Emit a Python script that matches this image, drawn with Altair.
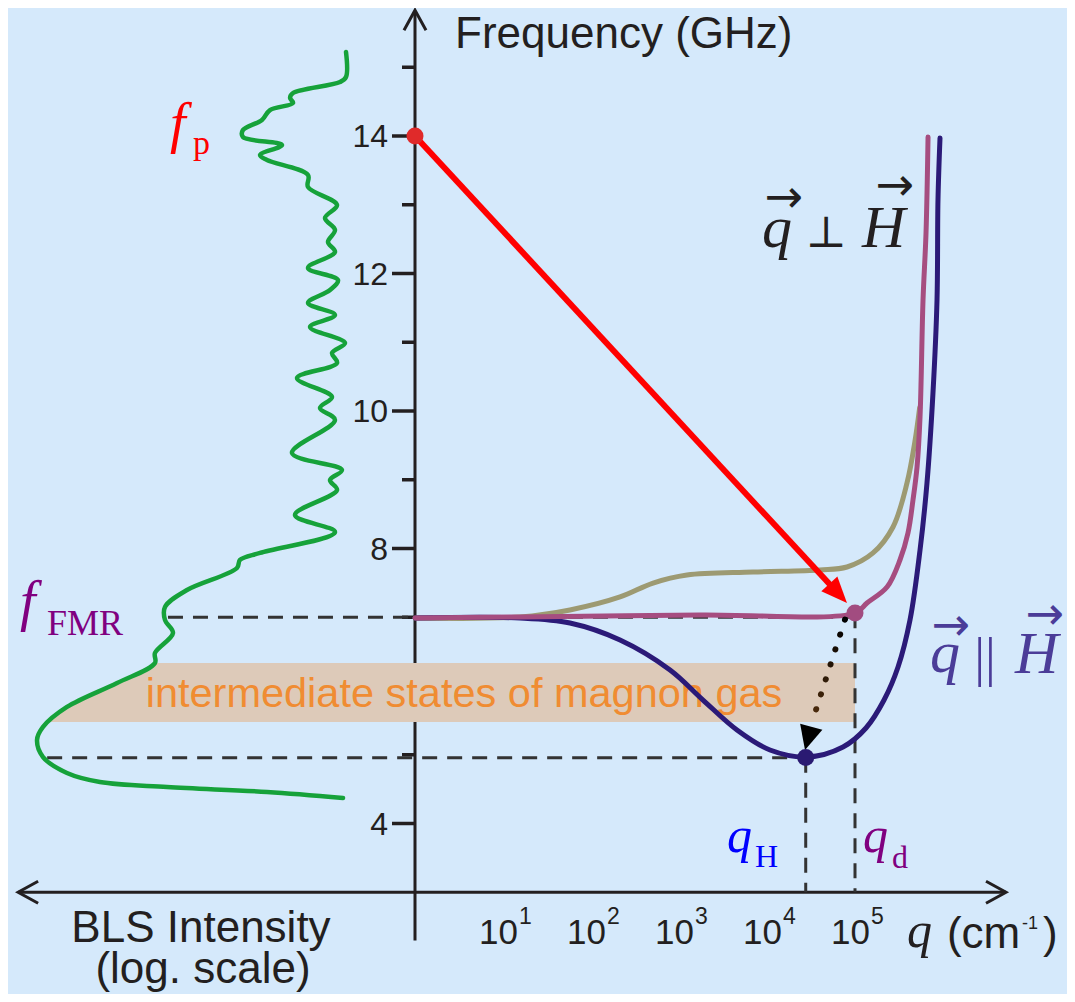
import math
import altair as alt
import pandas as pd

# ---------------- data ----------------
# BLS spectrum on the left: log-intensity (decades, growing to the left) vs frequency (GHz)
bls_logI = [0.784, 0.784, 0.852, 1.386, 1.420, 1.386, 1.648, 1.739, 1.955, 1.955,
            1.511, 1.761, 1.682, 1.216, 1.216, 0.886, 1.023, 0.909, 0.989, 0.909,
            1.216, 0.875, 0.966, 1.216, 0.909, 1.193, 0.795, 0.943, 0.886, 1.341,
            0.943, 1.080, 0.909, 1.398, 0.830, 0.966, 0.886, 1.364, 0.909, 1.761,
            1.989, 2.023, 2.591, 2.841, 2.841, 2.750, 2.955, 2.955, 3.386, 3.955,
            4.227, 4.295, 4.227, 3.955, 3.580, 2.818, 1.682, 0.818]
bls_freq = [15.222, 14.858, 14.785, 14.625, 14.553, 14.480, 14.378, 14.233, 14.087, 13.985,
            13.869, 13.724, 13.651, 13.433, 13.258, 12.996, 12.807, 12.633, 12.458, 12.313,
            12.080, 11.905, 11.760, 11.571, 11.396, 11.222, 10.989, 10.844, 10.698, 10.480,
            10.204, 10.044, 9.869, 9.389, 9.142, 8.996, 8.851, 8.487, 8.240, 7.935,
            7.833, 7.716, 7.396, 7.149, 6.960, 6.771, 6.480, 6.335, 6.044, 5.695,
            5.404, 5.215, 4.967, 4.735, 4.604, 4.531, 4.458, 4.371]

# dispersion curves: log10(q / cm^-1) vs frequency (GHz)
olive_q = [0, 1.193, 1.761, 2.330, 2.705, 3.091, 3.841, 4.602, 4.909, 5.205, 5.432, 5.591, 5.680, 5.735]
olive_f = [6.989, 7.004, 7.106, 7.295, 7.498, 7.615, 7.658, 7.687, 7.731, 7.935, 8.313, 8.953, 9.550, 10.050]
perp_q = [0, 1.193, 3.239, 5.0, 5.136, 5.364, 5.511, 5.602, 5.659, 5.705, 5.739, 5.773, 5.807, 5.830]
perp_f = [6.989, 7.004, 7.033, 7.062, 7.207, 7.440, 7.833, 8.225, 8.705, 9.185, 9.913, 11.615, 12.589, 13.985]
par_q = [0, 1.193, 1.761, 2.330, 2.898, 3.273, 3.659, 4.034, 4.455, 4.864,
         5.125, 5.330, 5.489, 5.625, 5.739, 5.818, 5.886, 5.932, 5.943, 5.966]
par_f = [6.989, 6.989, 6.916, 6.669, 6.233, 5.796, 5.360, 5.069, 4.967, 5.113,
         5.389, 5.796, 6.276, 6.960, 7.978, 8.953, 10.262, 11.615, 13.069, 13.971]

f_pump = 14.0
f_fmr = 7.0
f_h = 4.955
q_h = 4.44
q_d = 5.0
pump_tip = (4.909, 7.207)
dot_start = (4.886, 6.967)
dot_end = (4.545, 5.607)
dot_tip = (4.432, 5.069)
point_q = [0.0, 5.0, 4.44]
point_f = [14.0, 7.062, 4.96]
point_col = ["#E02A2A", "#A24C80", "#2A1A72"]

# band of intermediate states
band_f = [6.335, 6.044, 5.695, 5.476]
band_left = [-2.955, -3.386, -3.955, -4.15]
band_right = 5.0

y_ticks = [4, 5, 6, 7, 8, 9, 10, 11, 12, 13, 14, 15]
y_labels = [4, 8, 10, 12, 14]
x_exponents = [1, 2, 3, 4, 5]
axis_f = 3.0

# ---------------- layout ----------------
W, H = 1059, 986
PX_X = 88.0
PX_Y = 68.75
X0_PIX = 407
Y14_PIX = 128
x_dom = [-X0_PIX / PX_X, (W - X0_PIX) / PX_X]
y_dom = [14 - (H - Y14_PIX) / PX_Y, 14 + Y14_PIX / PX_Y]
xs = alt.Scale(domain=x_dom, nice=False, zero=False)
ys = alt.Scale(domain=y_dom, nice=False, zero=False)

BG = "#D5E9FB"
INK = "#231F20"
SANS = "Liberation Sans"
SERIF = "Liberation Serif"


def X(f="x"):
    return alt.X(f"{f}:Q", scale=xs, axis=None)


def Y(f="y"):
    return alt.Y(f"{f}:Q", scale=ys, axis=None)


layers = []

# axes lines
axes_df = pd.DataFrame({"x": [0.0, -4.51], "x2": [0.0, 6.716],
                        "y": [2.30, axis_f], "y2": [15.80, axis_f]})
layers.append(alt.Chart(axes_df).mark_rule(color=INK, strokeWidth=3).encode(
    x=X(), x2="x2:Q", y=Y(), y2="y2:Q"))

heads_df = pd.DataFrame({"x": [0.0, 6.716, -4.51], "y": [15.83, axis_f, axis_f],
                         "ang": [270, 0, 180]})
layers.append(alt.Chart(heads_df).mark_point(
    shape="M -1 -0.55 L 0 0 L -1 0.55", filled=False, strokeWidth=3, size=1600,
    color=INK, opacity=1, strokeJoin="miter").encode(
    x=X(), y=Y(), angle=alt.Angle("ang:Q", scale=None)))

# y ticks
tick_df = pd.DataFrame({"y": y_ticks,
                        "x": [-(23 if v % 2 == 0 else 13) / PX_X for v in y_ticks],
                        "x2": [0.0] * len(y_ticks)})
layers.append(alt.Chart(tick_df).mark_rule(color=INK, strokeWidth=3.5).encode(
    x=X(), x2="x2:Q", y=Y()))
ylab_df = pd.DataFrame({"y": y_labels, "x": [0.0] * len(y_labels),
                        "t": [str(v) for v in y_labels]})
layers.append(alt.Chart(ylab_df).mark_text(
    font=SANS, fontSize=32, color=INK, align="right", baseline="middle", dx=-27, dy=1).encode(
    x=X(), y=Y(), text="t:N"))

# x tick labels 10^k
xlab_df = pd.DataFrame({"x": x_exponents, "y": [axis_f] * len(x_exponents),
                        "t": [str(k) for k in x_exponents]})
layers.append(alt.Chart(xlab_df).mark_text(
    font=SANS, fontSize=35, color=INK, align="right", baseline="alphabetic", dx=15, dy=52,
    text="10").encode(x=X(), y=Y()))
layers.append(alt.Chart(xlab_df).mark_text(
    font=SANS, fontSize=23, color=INK, align="left", baseline="alphabetic", dx=16, dy=32).encode(
    x=X(), y=Y(), text="t:N"))

# band
band_df = pd.DataFrame({"y": band_f, "x": band_left, "x2": [band_right] * len(band_f)})
layers.append(alt.Chart(band_df).mark_area(orient="horizontal", color="#DDCAB9", opacity=1).encode(
    y=Y(), x=X(), x2="x2:Q"))
band_txt = pd.DataFrame({"x": [0.557], "y": [5.695], "t": ["intermediate states of magnon gas"]})
layers.append(alt.Chart(band_txt).mark_text(
    font=SANS, fontSize=41.5, color="#F08C32", align="center", baseline="alphabetic").encode(
    x=X(), y=Y(), text="t:N"))

# dashed guide lines
dash_df = pd.DataFrame({"x": [-2.807, -4.18, q_h, q_d], "x2": [q_d, q_h, q_h, q_d],
                        "y": [f_fmr, f_h, f_h, 7.06], "y2": [f_fmr, f_h, axis_f, axis_f]})
layers.append(alt.Chart(dash_df).mark_rule(color="#333333", strokeWidth=3, strokeDash=[15, 10]).encode(
    x=X(), x2="x2:Q", y=Y(), y2="y2:Q"))

# BLS spectrum
bls_df = pd.DataFrame({"x": [-v for v in bls_logI], "y": bls_freq, "o": list(range(len(bls_freq)))})
layers.append(alt.Chart(bls_df).mark_line(color="#16A23A", strokeWidth=4.5, interpolate="catmull-rom",
                                          strokeJoin="round", strokeCap="round").encode(
    x=X(), y=Y(), order="o:Q"))

# dispersion curves
for qs, fs_, col in [(olive_q, olive_f, "#9D9A72"), (par_q, par_f, "#2B1A78"), (perp_q, perp_f, "#A64D80")]:
    dfc = pd.DataFrame({"x": qs, "y": fs_, "o": list(range(len(qs)))})
    layers.append(alt.Chart(dfc).mark_line(color=col, strokeWidth=5, interpolate="catmull-rom",
                                           strokeCap="round").encode(x=X(), y=Y(), order="o:Q"))

# red pump arrow
sx = (pump_tip[0] - 0.0) * PX_X
sy = -(pump_tip[1] - f_pump) * PX_Y
L = math.hypot(sx, sy)
ang_red = math.degrees(math.atan2(sy, sx)) % 360
back = 18
red_end = (pump_tip[0] - back * sx / L / PX_X, pump_tip[1] + back * sy / L / PX_Y)
red_df = pd.DataFrame({"x": [0.0, red_end[0]], "y": [f_pump, red_end[1]], "o": [0, 1]})
layers.append(alt.Chart(red_df).mark_line(color="#FF0000", strokeWidth=6).encode(
    x=X(), y=Y(), order="o:Q"))
layers.append(alt.Chart(pd.DataFrame({"x": [pump_tip[0]], "y": [pump_tip[1]], "a": [ang_red]})).mark_point(
    shape="M 0 0 L -1 -0.42 L -1 0.42 Z", filled=True, size=2704, color="#FF0000", opacity=1).encode(
    x=X(), y=Y(), angle=alt.Angle("a:Q", scale=None)))

# dotted relaxation arrow
dot_df = pd.DataFrame({"x": [dot_start[0], dot_end[0]], "y": [dot_start[1], dot_end[1]], "o": [0, 1]})
layers.append(alt.Chart(dot_df).mark_line(
    strokeWidth=6, strokeCap="round", strokeDash=[0.1, 15.6],
    color=alt.Gradient(gradient="linear", x1=0, y1=0, x2=0, y2=1,
                       stops=[alt.GradientStop(color="#000000", offset=0),
                              alt.GradientStop(color="#4A2A0C", offset=1)])).encode(
    x=X(), y=Y(), order="o:Q"))
dsx = (dot_tip[0] - dot_end[0]) * PX_X
dsy = -(dot_tip[1] - dot_end[1]) * PX_Y
ang_dot = math.degrees(math.atan2(dsy, dsx)) % 360
layers.append(alt.Chart(pd.DataFrame({"x": [dot_tip[0]], "y": [dot_tip[1]], "a": [ang_dot]})).mark_point(
    shape="M 0 0 L -1 -0.48 L -1 0.48 Z", filled=True, size=2304, color="#000000", opacity=1).encode(
    x=X(), y=Y(), angle=alt.Angle("a:Q", scale=None)))

# points
pts_df = pd.DataFrame({"x": point_q, "y": point_f, "c": point_col})
layers.append(alt.Chart(pts_df).mark_circle(size=289, opacity=1).encode(
    x=X(), y=Y(), color=alt.Color("c:N", scale=None)))


def text_layer(rows, **kw):
    df = pd.DataFrame(rows, columns=["x", "y", "t", "c", "fs"])
    return alt.Chart(df).mark_text(**kw).encode(
        x=X(), y=Y(), text="t:N", color=alt.Color("c:N", scale=None),
        size=alt.Size("fs:Q", scale=None))


PUR = "#800080"
BLU = "#0000FF"
PAR = "#4B3C98"

# sans labels
layers.append(text_layer([
    (0.455, 15.28, "Frequency (GHz)", INK, 44),
    (6.045, 2.19, "(cm", INK, 44),
    (7.136, 2.19, ")", INK, 44),
    (6.898, 2.46, "-1", INK, 18),
], font=SANS, align="left", baseline="alphabetic"))
layers.append(text_layer([
    (-2.432, 2.276, "BLS Intensity", INK, 44),
    (-2.409, 1.680, "(log. scale)", INK, 44),
], font=SANS, align="center", baseline="alphabetic"))

# italic serif symbols
layers.append(text_layer([
    (-2.784, 13.913, "f", "#FF0000", 56),
    (-4.489, 6.96, "f", PUR, 56),
    (3.545, 3.585, "q", BLU, 50),
    (5.091, 3.585, "q", PUR, 50),
    (5.591, 2.204, "q", INK, 50),
    (3.943, 12.385, "q", INK, 60),
    (5.08, 12.385, "H", INK, 60),
    (5.852, 6.204, "q", PAR, 60),
    (6.818, 6.189, "H", PAR, 60),
], font=SERIF, fontStyle="italic", align="left", baseline="alphabetic"))

# upright serif subscripts
layers.append(text_layer([
    (-2.523, 13.738, "p", "#FF0000", 34),
    (-4.182, 6.735, "FMR", PUR, 36),
    (3.864, 3.367, "H", BLU, 32),
    (5.42, 3.353, "d", PUR, 32),
], font=SERIF, align="left", baseline="alphabetic"))

# vector arrows above q and H
layers.append(text_layer([
    (4.193, 13.10, "\u2192", INK, 46),
    (5.455, 13.28, "\u2192", INK, 46),
    (6.091, 6.88, "\u2192", PAR, 46),
    (7.159, 7.04, "\u2192", PAR, 46),
], font="DejaVu Sans", align="center", baseline="middle"))
layers.append(text_layer([
    (6.477, 6.393, "||", PAR, 54),
], font=SERIF, align="center", baseline="middle"))
layers.append(text_layer([
    (4.67, 12.385, "\u22a5", INK, 44),
], font="DejaVu Serif", align="center", baseline="alphabetic"))

chart = alt.layer(*layers).properties(
    width=W, height=H, padding=0, autosize="none", background=BG
).configure_view(stroke=None)

chart.save("out.html", embed_options={"renderer": "svg", "actions": False})
